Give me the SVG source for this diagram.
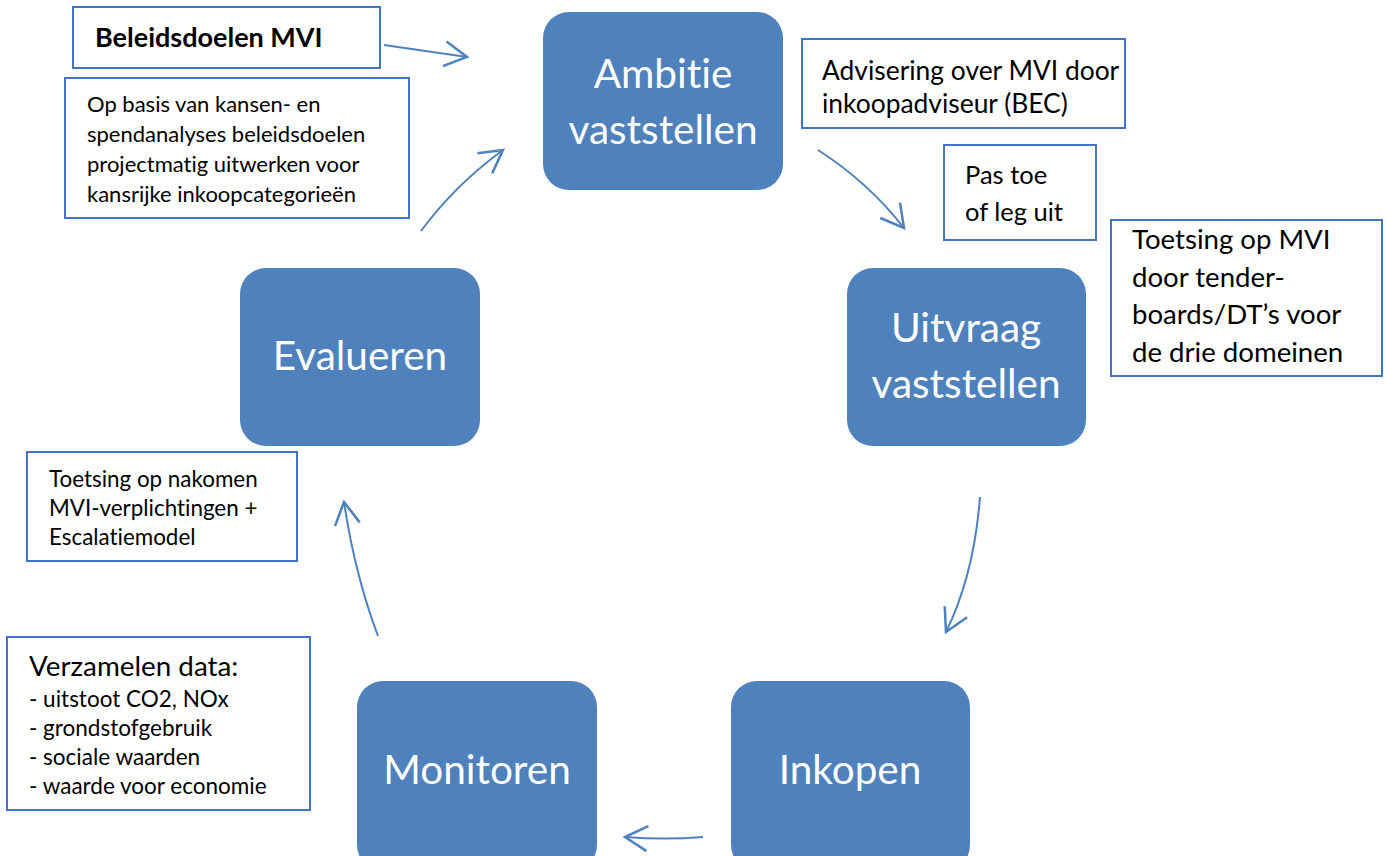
<svg xmlns="http://www.w3.org/2000/svg" width="1387" height="856" viewBox="0 0 1387 856">
<style>
text{font-variant-ligatures:none;font-feature-settings:"liga" 0,"dlig" 0;}
.node{fill:#4F81BD;}
.nt{fill:#fff;font-family:Lato,"Open Sans",sans-serif;font-size:40.5px;text-anchor:middle;}
.box{fill:#fff;stroke:#4472C4;stroke-width:2;}
.bt{fill:#000;font-family:Lato,"Open Sans",sans-serif;}
.con{fill:none;stroke:#4F81BD;stroke-width:2;}
</style>
<defs>
<marker id="ah" markerUnits="userSpaceOnUse" markerWidth="30" markerHeight="30" refX="20" refY="12" orient="auto" viewBox="0 0 24 24">
<path d="M2,2 L20,12 L2,22" fill="none" stroke="#4F81BD" stroke-width="2"/>
</marker>
</defs>
<rect width="1387" height="856" fill="#fff"/>
<g id="ambitie"><rect class="node" x="543" y="12" width="240" height="178" rx="26"/><text class="nt" x="663" y="88">Ambitie</text><text class="nt" x="663" y="144">vaststellen</text></g>
<g id="uitvraag"><rect class="node" x="847" y="268" width="239" height="178" rx="26"/><text class="nt" x="966" y="342">Uitvraag</text><text class="nt" x="966" y="398">vaststellen</text></g>
<g id="inkopen"><rect class="node" x="731" y="681" width="239" height="190" rx="26"/><text class="nt" x="850" y="784">Inkopen</text></g>
<g id="monitoren"><rect class="node" x="357" y="681" width="240" height="190" rx="26"/><text class="nt" x="477" y="784">Monitoren</text></g>
<g id="evalueren"><rect class="node" x="240" y="268" width="240" height="178" rx="26"/><text class="nt" x="360" y="370">Evalueren</text></g>
<g id="beleidsdoelen"><rect class="box" x="73" y="7" width="307" height="61"/><text class="bt" x="95" y="47" font-size="27" font-weight="bold">Beleidsdoelen MVI</text></g>
<g id="opbasis"><rect class="box" x="65" y="78" width="344" height="140"/><text class="bt" font-size="22"><tspan x="87" y="112">Op basis van kansen- en</tspan><tspan x="87" y="142">spendanalyses beleidsdoelen</tspan><tspan x="87" y="172">projectmatig uitwerken voor</tspan><tspan x="87" y="202">kansrijke inkoopcategorieën</tspan></text></g>
<g id="advisering"><rect class="box" x="802" y="39" width="323" height="89"/><text class="bt" font-size="26.4"><tspan x="822" y="80">Advisering over MVI door</tspan><tspan x="822" y="113">inkoopadviseur (BEC)</tspan></text></g>
<g id="pastoe"><rect class="box" x="944" y="145" width="152" height="95"/><text class="bt" font-size="25.5"><tspan x="965" y="184">Pas toe</tspan><tspan x="965" y="221">of leg uit</tspan></text></g>
<g id="toetsing"><rect class="box" x="1111" y="220" width="271" height="156"/><text class="bt" font-size="27.6"><tspan x="1132" y="249">Toetsing op MVI</tspan><tspan x="1132" y="287">door tender-</tspan><tspan x="1132" y="324">boards/DT’s voor</tspan><tspan x="1132" y="362">de drie domeinen</tspan></text></g>
<g id="nakomen"><rect class="box" x="27" y="452" width="270" height="109"/><text class="bt" font-size="22.4"><tspan x="49" y="487">Toetsing op nakomen</tspan><tspan x="49" y="516">MVI-verplichtingen +</tspan><tspan x="49" y="545">Escalatiemodel</tspan></text></g>
<g id="verzamelen"><rect class="box" x="7" y="637" width="303" height="173"/><text class="bt"><tspan x="29" y="676" font-size="27.8">Verzamelen data:</tspan><tspan x="29" y="707" font-size="22.5">- uitstoot CO2, NOx</tspan><tspan x="29" y="736" font-size="22.5">- grondstofgebruik</tspan><tspan x="29" y="765" font-size="22.5">- sociale waarden</tspan><tspan x="29" y="794" font-size="22.5">- waarde voor economie</tspan></text></g>
<g id="connectors">
<path class="con" marker-end="url(#ah)" d="M384,45 L467,57"/>
<path class="con" marker-end="url(#ah)" d="M421,231 Q455,185 503,150"/>
<path class="con" marker-end="url(#ah)" d="M818,150 Q868,182 904,228"/>
<path class="con" marker-end="url(#ah)" d="M980,497 Q974,575 946,632"/>
<path class="con" marker-end="url(#ah)" d="M703,837 Q665,840 625,837"/>
<path class="con" marker-end="url(#ah)" d="M378,636 Q355,575 344,502"/>
</g>
</svg>
